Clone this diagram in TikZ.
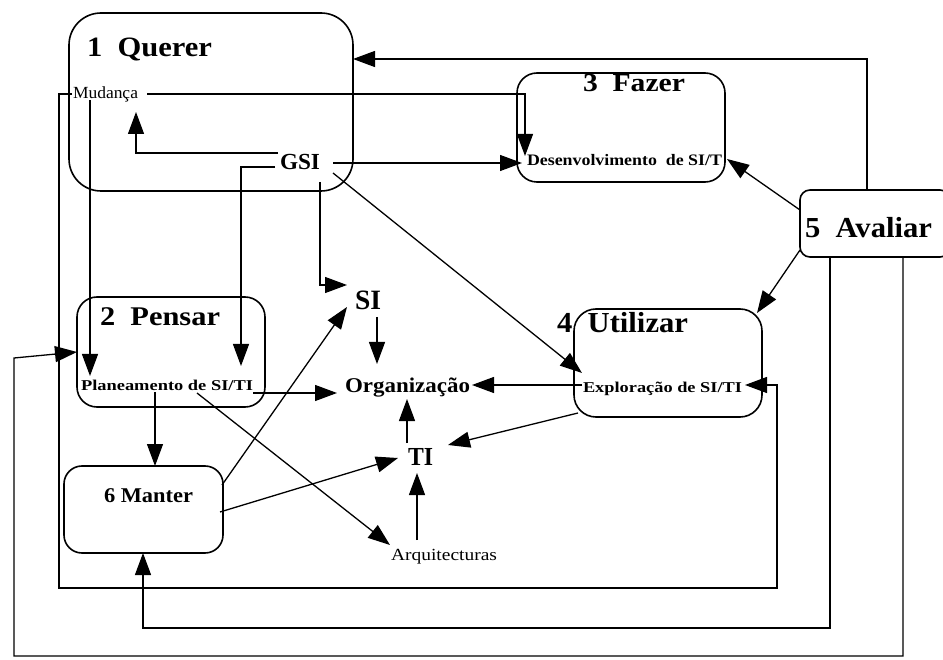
\documentclass[tikz,border=0pt]{standalone}
\usepackage{fontspec}
\setmainfont{Liberation Serif}
\usetikzlibrary{arrows.meta}
\newcommand\fitw[3]{\resizebox{#1pt}{\height}{\fontsize{#2}{#2}\selectfont #3}}
\begin{document}
\begin{tikzpicture}[x=1pt,y=-1pt,
  box/.style={draw, line width=1.6pt, inner sep=0pt, outer sep=0pt},
  txt/.style={inner sep=0pt, outer sep=0pt, anchor=base west},
  conn/.style={line width=1.3pt, -{Triangle[length=22pt,width=16pt]}},
  ]
\clip (0,0) rectangle (943,660);
\fill[white] (0,0) rectangle (943,660);

% boxes
\node[box, rounded corners=32pt, minimum width=284pt, minimum height=178pt] (querer) at (211,102) {};
\node[box, rounded corners=20pt, minimum width=208pt, minimum height=109pt] (fazer) at (621,127.5) {};
\node[box, rounded corners=20pt, minimum width=188pt, minimum height=110pt] (pensar) at (171,352) {};
\node[box, rounded corners=22pt, minimum width=188pt, minimum height=108pt] (utilizar) at (668,363) {};
\node[box, rounded corners=18pt, minimum width=159pt, minimum height=87pt] (manter) at (143.5,509.5) {};
\node[box, rounded corners=10pt, minimum width=150pt, minimum height=67pt] (avaliar) at (875,223.5) {};

% texts
\node[txt] (tquerer) at (87,57) {\fitw{125}{28}{\bfseries 1\ \ Querer}};
\node[txt] (mud) at (73,99) {\fitw{65}{17}{Mudança}};
\node[txt] (gsi) at (280,170) {\fitw{40}{23}{\bfseries GSI}};
\node[txt] (tfazer) at (583,92) {\fitw{102}{26}{\bfseries 3\ \ Fazer}};
\node[txt] (desenv) at (527,166) {\fitw{195}{16}{\bfseries Desenvolvimento\ \ de SI/T}};
\node[txt] (tavaliar) at (805,238) {\fitw{127}{29}{\bfseries 5\ \ Avaliar}};
\node[txt] (tpensar) at (100,326) {\fitw{120}{27}{\bfseries 2\ \ Pensar}};
\node[txt] (plan) at (81,390) {\fitw{172}{15}{\bfseries Planeamento de SI/TI}};
\node[txt] (si) at (355,310) {\fitw{26}{28}{\bfseries SI}};
\node[txt] (org) at (345,393) {\fitw{125}{21}{\bfseries Organização}};
\node[txt] (tutil) at (557,333) {\fitw{131}{29}{\bfseries 4\ \ Utilizar}};
\node[txt] (expl) at (583,392) {\fitw{159}{15}{\bfseries Exploração de SI/TI}};
\node[txt] (ti) at (408,465) {\fitw{25}{26}{\bfseries TI}};
\node[txt] (tmanter) at (104,502) {\fitw{89}{21}{\bfseries 6 Manter}};
\node[txt] (arq) at (391,560) {\fitw{106}{17}{Arquitecturas}};

% connector points
\coordinate (q1) at (867,59);
\coordinate (m0) at (147,94); \coordinate (m1) at (525,94); \coordinate (m2) at (525,156);
\coordinate (ml0) at (72,94); \coordinate (ml1) at (59,94); \coordinate (ml2) at (59,588);
\coordinate (ml3) at (777,588); \coordinate (ml4) at (777,385); \coordinate (ml5) at (745,385);
\coordinate (mp0) at (90,100); \coordinate (mp1) at (90,376);
\coordinate (gm0) at (278,153); \coordinate (gm1) at (136,153); \coordinate (gm2) at (136,112);
\coordinate (gp0) at (275,167); \coordinate (gp1) at (241,167); \coordinate (gp2) at (241,366);
\coordinate (gd0) at (333,163); \coordinate (gd1) at (522,163);
\coordinate (gs0) at (320,182); \coordinate (gs1) at (320,285); \coordinate (gs2) at (347,285);
\coordinate (ge0) at (333,173); \coordinate (ge1) at (582,373);
\coordinate (so0) at (377,317); \coordinate (so1) at (377,364);
\coordinate (po0) at (253,393); \coordinate (po1) at (337,393);
\coordinate (pm0) at (155,392);
\coordinate (pa0) at (197,393); \coordinate (pa1) at (390,545);
\coordinate (ms0) at (222,485); \coordinate (ms1) at (347,307);
\coordinate (mt0) at (220,512); \coordinate (mt1) at (398,458);
\coordinate (to0) at (407,443); \coordinate (to1) at (407,399);
\coordinate (at0) at (417,540); \coordinate (at1) at (417,473);
\coordinate (eo0) at (582,385); \coordinate (eo1) at (472,385);
\coordinate (ut0) at (578,413); \coordinate (ut1) at (448,445);
\coordinate (ad0) at (800,210); \coordinate (ad1) at (727,159);
\coordinate (au0) at (800,250); \coordinate (au1) at (757,313);
\coordinate (am0) at (830,257); \coordinate (am1) at (830,628); \coordinate (am2) at (143,628);
\coordinate (ap0) at (903,257); \coordinate (ap1) at (903,656); \coordinate (ap2) at (14,656);
\coordinate (ap3) at (14,358);

% connectors
\draw[conn] (avaliar.north -| q1) -- (q1) -- (querer.east |- q1);
\draw[conn] (m0) -- (m1) -- (m2);
\draw[conn] (ml0) -- (ml1) -- (ml2) -- (ml3) -- (ml4) -- (ml5);
\draw[conn] (mp0) -- (mp1);
\draw[conn] (gm0) -- (gm1) -- (gm2);
\draw[conn] (gp0) -- (gp1) -- (gp2);
\draw[conn] (gd0) -- (gd1);
\draw[conn] (gs0) -- (gs1) -- (gs2);
\draw[conn] (ge0) -- (ge1);
\draw[conn] (so0) -- (so1);
\draw[conn] (po0) -- (po1);
\draw[conn] (pm0) -- (pm0 |- manter.north);
\draw[conn] (pa0) -- (pa1);
\draw[conn] (ms0) -- (ms1);
\draw[conn] (mt0) -- (mt1);
\draw[conn] (to0) -- (to1);
\draw[conn] (at0) -- (at1);
\draw[conn] (eo0) -- (eo1);
\draw[conn] (ut0) -- (ut1);
\draw[conn] (ad0) -- (ad1);
\draw[conn] (au0) -- (au1);
\draw[conn] (am0) -- (am1) -- (am2) -- (am2 |- manter.south);
\draw[conn] (ap0) -- (ap1) -- (ap2) -- (ap3) -- (pensar.west);
\end{tikzpicture}
\end{document}
